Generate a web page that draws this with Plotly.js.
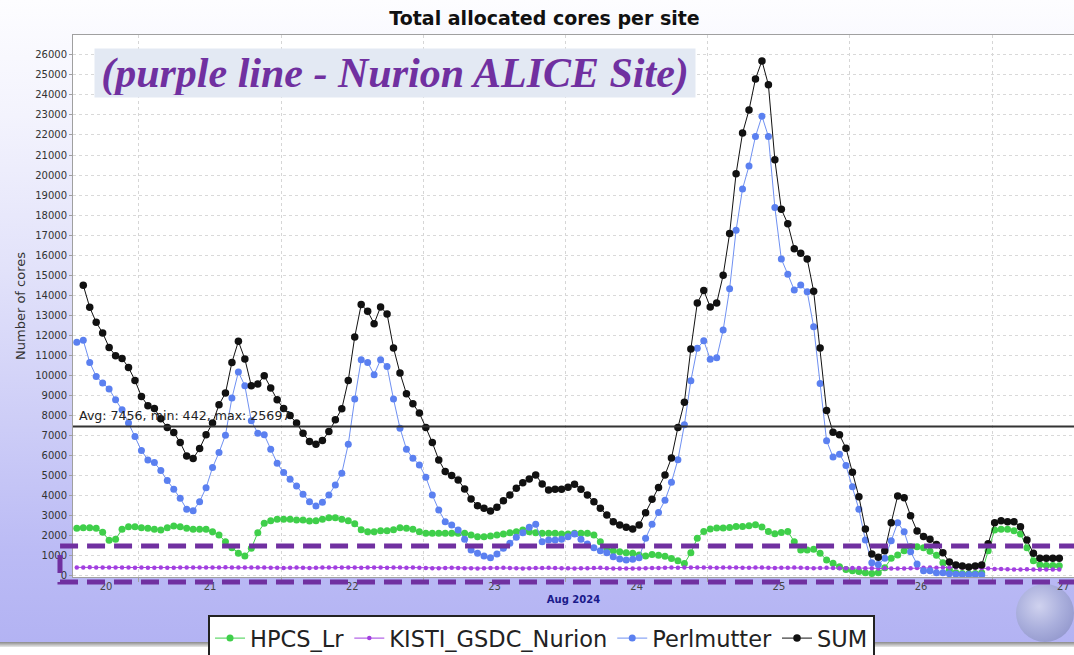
<!DOCTYPE html>
<html>
<head>
<meta charset="utf-8">
<script src="https://cdn.plot.ly/plotly-3.0.1.min.js"></script>
<style>
  html, body { margin:0; padding:0; background:#ffffff; }
  #wrap { position:relative; width:1074px; height:655px; overflow:hidden; background:#ffffff; }
  #bg { position:absolute; left:0; top:0; width:1074px; height:642px;
        background: linear-gradient(to bottom, #fdfdff 0%, #f3f3fd 18%, #e2e2fa 42%, #cdcdf7 66%, #bbbbf5 86%, #b3b3f3 100%); }
  #shadow { position:absolute; left:0; top:642px; width:1074px; height:5px;
        background: linear-gradient(to bottom, #8a8a8a, #e8e8e8); }
  #moon { position:absolute; left:1016px; top:584px; width:58px; height:58px; border-radius:50%;
        background: radial-gradient(circle at 40% 38%, #d4d7ee 0%, #a9afd9 45%, #8d93c6 80%, #a8acd8 100%); opacity:0.85; }
  #plot { position:absolute; left:0; top:0; width:1074px; height:655px; }
</style>
</head>
<body>
<div id="wrap">
  <div id="bg"></div>
  <div id="shadow"></div>
  <div id="moon"></div>
  <div id="plot"></div>
</div>
<script>
// ---- data ----
// sampling grid: x in days of Aug 2024 (grid lines at midnight), one sample about every 65 min
const X_START = 20.5626;
const X_STEP = 1 / 22;

const SERIES_NAMES = ['HPCS_Lr', 'KISTI_GSDC_Nurion', 'Perlmutter', 'SUM'];

const hpcsLr = [
  2370, 2400, 2400, 2370, 2170, 1780, 1820, 2320, 2450, 2450,
  2400, 2370, 2320, 2285, 2400, 2485, 2450, 2370, 2320, 2320,
  2320, 2200, 2035, 1700, 1400, 1130, 985, 1370, 2150, 2620,
  2750, 2820, 2820, 2820, 2785, 2785, 2735, 2750, 2820, 2900,
  2900, 2820, 2750, 2600, 2300, 2200, 2200, 2250, 2250, 2300,
  2400, 2370, 2320, 2200, 2120, 2120, 2120, 2120, 2120, 2120,
  2120, 2035, 1950, 1950, 1985, 2035, 2085, 2150, 2200, 2285,
  2200, 2150, 2120, 2120, 2120, 2085, 2085, 2120, 2120, 2120,
  2035, 1700, 1370, 1250, 1200, 1150, 1120, 1035, 985, 1065,
  1030, 980, 865, 745, 610, 1150, 1875, 2215, 2330, 2385,
  2385, 2415, 2465, 2465, 2500, 2550, 2435, 2215, 2095, 2165,
  2215, 1705, 1285, 1285, 1320, 1130, 785, 620, 450, 320,
  250, 220, 150, 120, 150, 400, 870, 1035, 1250, 1450,
  1450, 1400, 1230, 1030, 650, 300, 150, 120, 100, 120,
  150, 1250, 2285, 2320, 2320, 2250, 2085, 1400, 750, 550,
  520, 520, 500
];

const kistiNurion = [
  420, 420, 430, 420, 410, 420, 420, 410, 410, 400,
  410, 400, 400, 410, 400, 400, 410, 410, 420, 420,
  410, 420, 420, 430, 420, 420, 410, 420, 410, 410,
  400, 400, 390, 400, 410, 400, 390, 400, 410, 420,
  410, 410, 420, 410, 400, 410, 420, 410, 400, 410,
  410, 400, 410, 400, 390, 380, 380, 390, 400, 390,
  380, 380, 370, 380, 390, 390, 400, 390, 380, 370,
  380, 390, 390, 400, 390, 380, 380, 370, 380, 380,
  390, 400, 380, 370, 360, 360, 370, 370, 380, 390,
  390, 400, 410, 400, 410, 420, 410, 420, 410, 400,
  410, 420, 410, 400, 400, 410, 410, 400, 390, 400,
  400, 410, 400, 390, 380, 390, 400, 390, 380, 380,
  390, 390, 380, 380, 370, 380, 360, 360, 370, 380,
  390, 400, 410, 400, 410, 420, 420, 410, 410, 400,
  380, 360, 340, 340, 330, 320, 320, 330, 320, 310,
  310, 320, 310
];

const perlmutter = [
  11650, 11750, 10650, 9950, 9620, 9320, 8785, 8285, 7620, 6950,
  6250, 5785, 5650, 5250, 4750, 4320, 3870, 3320, 3250, 3700,
  4400, 5400, 6150, 7020, 8870, 10170, 9485, 7735, 7120, 7035,
  6320, 5620, 5150, 4820, 4485, 4070, 3700, 3485, 3670, 4035,
  4535, 5120, 6570, 8820, 10785, 10650, 10035, 10785, 10450, 8820,
  7370, 6320, 5870, 5535, 4920, 4035, 3285, 2700, 2535, 2285,
  1820, 1285, 1120, 985, 900, 1085, 1370, 1620, 1920, 2150,
  2420, 2570, 1700, 1785, 1785, 1820, 1950, 2085, 1820, 1585,
  1400, 1250, 1150, 950, 835, 785, 820, 900, 1870, 2570,
  3160, 3770, 4665, 5795, 7535, 9730, 11355, 11725, 10810, 10880,
  12265, 14325, 17250, 19310, 20455, 21925, 22940, 21925, 18380, 15810,
  15050, 14260, 14510, 14175, 12435, 9595, 6740, 5930, 6070, 5500,
  4450, 3320, 1785, 650, 570, 870, 1750, 2650, 2200, 1200,
  585, 250, 250, 150, 150, 100, 80, 60, 60, 60,
  50, null, null, null, null, null, null, null, null, null,
  null, null, null
];

const sumCores = [
  null, 14500, 13400, 12650, 12120, 11400, 10985, 10850, 10400, 9750,
  8950, 8485, 8350, 7835, 7400, 7150, 6650, 5985, 5850, 6350,
  7035, 7620, 8535, 9120, 10650, 11700, 10820, 9485, 9570, 9985,
  9370, 8785, 8350, 8000, 7620, 7120, 6700, 6570, 6750, 7200,
  7785, 8335, 9750, 11920, 13535, 13200, 12585, 13420, 13070, 11370,
  10120, 9085, 8585, 8120, 7400, 6650, 5785, 5200, 5000, 4785,
  4335, 3835, 3500, 3370, 3235, 3420, 3750, 4035, 4370, 4650,
  4835, 5035, 4585, 4285, 4320, 4320, 4420, 4570, 4320, 4035,
  3700, 3370, 3035, 2700, 2535, 2420, 2335, 2535, 3150, 3820,
  4410, 5035, 5880, 7400, 8665, 11320, 13615, 14240, 13415, 13615,
  15000, 17080, 20070, 22095, 23245, 24800, 25697, 24510, 20760, 18295,
  17570, 16320, 16100, 15810, 14205, 11370, 8245, 7170, 7035, 6370,
  5170, 3950, 2335, 1085, 920, 1250, 2650, 3985, 3900, 3000,
  2235, 1965, 1830, 1560, 1150, 685, 535, 485, 442, 485,
  535, 1600, 2650, 2750, 2700, 2700, 2450, 1785, 1120, 870,
  870, 870, 870
];

const SUM_AVG = 7456;
const SUM_MIN = 442;
const SUM_MAX = 25697;

const TICK_POS = [20.768, 21.5, 22.5, 23.5, 24.5, 25.5, 26.5, 27.5];
const TICK_TEXT = ['20', '21', '22', '23', '24', '25', '26', '27'];

// ---- build ----
const N = sumCores.length;
const xs = [];
for (let j = 0; j < N; j++) xs.push(X_START + j * X_STEP);

function trace(name, ys, color, lineColor, msize) {
  return {
    type: 'scatter', mode: 'lines+markers', name: name, x: xs, y: ys,
    line: { color: lineColor, width: 1 },
    marker: { color: color, size: msize, symbol: 'circle' },
    connectgaps: false, hoverinfo: 'x+y+name'
  };
}

const data = [
  trace(SERIES_NAMES[0], hpcsLr, '#3fcf4a', '#3fcf4a', 7),
  trace(SERIES_NAMES[1], kistiNurion, '#a23fe0', '#a23fe0', 4.5),
  trace(SERIES_NAMES[2], perlmutter, '#5b80f0', '#6f90f2', 7),
  trace(SERIES_NAMES[3], sumCores, '#111111', '#111111', 7.5)
];

const PURPLE = '#7030A0';

const layout = {
  width: 1074, height: 655,
  margin: { l: 73, r: 0, t: 35, b: 78 },
  paper_bgcolor: 'rgba(0,0,0,0)',
  plot_bgcolor: '#ffffff',
  title: {
    text: 'Total allocated cores per site',
    font: { family: 'DejaVu Sans', size: 19, color: '#111111', weight: 'bold' },
    xref: 'container', yref: 'container', x: 0.507, xanchor: 'center', y: 0.972, yanchor: 'middle'
  },
  showlegend: true,
  legend: {
    orientation: 'h', xref: 'container', yref: 'container',
    x: 0.1937, y: 0.0611, xanchor: 'left', yanchor: 'top',
    bgcolor: '#ffffff', bordercolor: '#222222', borderwidth: 2,
    font: { family: 'DejaVu Sans', size: 22.5, color: '#222222' },
    itemwidth: 30, tracegroupgap: 0
  },
  xaxis: {
    range: [20.5359, 27.5753],
    tickmode: 'array', tickvals: TICK_POS, ticktext: TICK_TEXT,
    ticks: '', showgrid: false, zeroline: false,
    showline: true, linecolor: '#a0a0a0', linewidth: 1, mirror: true,
    tickfont: { family: 'DejaVu Sans', size: 10, color: '#444444' },
    minor: { tickmode: 'linear', tick0: 21, dtick: 1, showgrid: true, gridcolor: '#d6d6d6',
             griddash: 'dot', gridwidth: 1, ticks: 'outside', ticklen: 4, tickcolor: '#a0a0a0' },
    title: { text: 'Aug 2024', font: { family: 'DejaVu Sans', size: 10, color: '#1a1a8a', weight: 'bold' }, standoff: 4 }
  },
  yaxis: {
    range: [-60, 26990],
    tickmode: 'linear', tick0: 0, dtick: 1000, tickformat: 'd',
    ticks: 'outside', ticklen: 3, tickcolor: '#a0a0a0',
    showgrid: true, gridcolor: '#d9d9d9', griddash: 'dot', gridwidth: 1,
    zeroline: false, showline: true, linecolor: '#a0a0a0', linewidth: 1, mirror: true,
    tickfont: { family: 'DejaVu Sans', size: 10, color: '#333333' },
    title: { text: 'Number of cores', font: { family: 'DejaVu Sans', size: 13, color: '#333333' }, standoff: 6 }
  },
  shapes: [
    { type: 'line', xref: 'paper', yref: 'y', x0: 0, x1: 1, y0: SUM_AVG, y1: SUM_AVG,
      line: { color: '#333333', width: 2 }, layer: 'above' },
    { type: 'rect', xref: 'paper', yref: 'paper', x0: -0.013, x1: 1.03, y0: -0.0092, y1: 0.0572,
      line: { color: PURPLE, width: 5, dash: '18px,9px' }, fillcolor: 'rgba(0,0,0,0)', layer: 'above' }
  ],
  annotations: [
    { xref: 'paper', yref: 'y', x: 0.004, y: SUM_AVG, xanchor: 'left', yanchor: 'bottom', yshift: 1,
      showarrow: false, text: 'Avg: ' + SUM_AVG + ', min: ' + SUM_MIN + ', max: ' + SUM_MAX,
      font: { family: 'DejaVu Sans', size: 12.6, color: '#222222' } },
    { xref: 'paper', yref: 'paper', x: 0.021, y: 0.976, xanchor: 'left', yanchor: 'top',
      showarrow: false, text: '(purple line - Nurion ALICE Site)',
      bgcolor: '#e3e9f3', borderpad: 2, width: 596, height: 44,
      font: { family: 'Liberation Serif', size: 42, color: PURPLE, weight: 'bold', style: 'italic' } }
  ]
};

Plotly.newPlot('plot', data, layout, { displayModeBar: false, staticPlot: true });
</script>
</body>
</html>
